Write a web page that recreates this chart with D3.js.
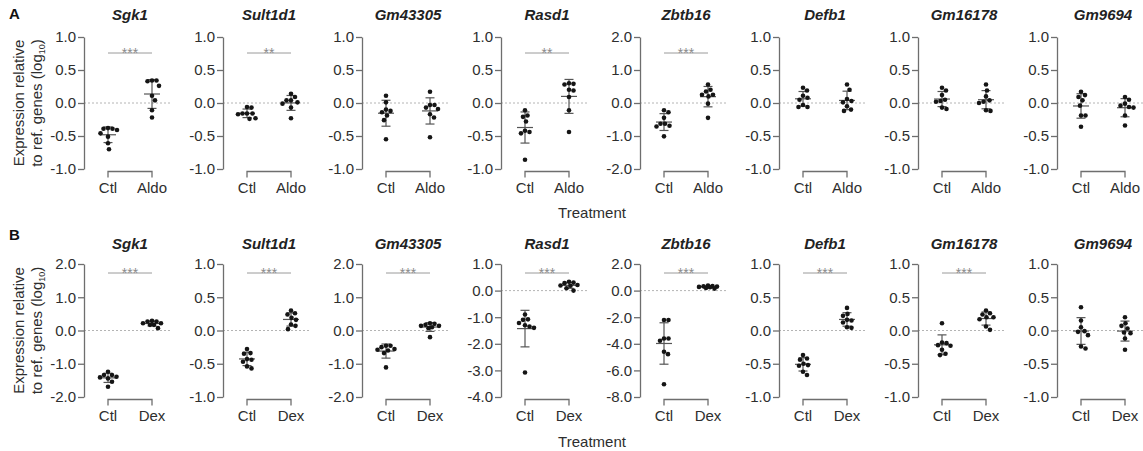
<!DOCTYPE html>
<html>
<head>
<meta charset="utf-8">
<script src="https://cdn.jsdelivr.net/npm/d3@7"></script>
<style>
  html, body { margin: 0; padding: 0; background: #fff; }
  svg { display: block; font-family: "Liberation Sans", Arial, Helvetica, sans-serif; }
</style>
</head>
<body>
<svg id="chart" width="1143" height="451"></svg>
<script>
// ---- data -------------------------------------------------------------
const genes = ["Sgk1", "Sult1d1", "Gm43305", "Rasd1", "Zbtb16", "Defb1", "Gm16178", "Gm9694"];

const aldoGroups = ["Ctl", "Aldo"];
const dexGroups = ["Ctl", "Dex"];

// log10 expression relative to reference genes, one list per gene (8 animals each)
const aldoCtl = [
  [-0.38, -0.39, -0.39, -0.41, -0.46, -0.51, -0.61, -0.70],
  [-0.07, -0.06, -0.16, -0.16, -0.16, -0.17, -0.23, -0.24],
  [0.11, 0.01, -0.10, -0.12, -0.14, -0.19, -0.26, -0.55],
  [-0.11, -0.19, -0.21, -0.28, -0.42, -0.44, -0.46, -0.86],
  [-0.22, -0.28, -0.45, -0.63, -0.63, -0.69, -0.71, -1.01],
  [0.23, 0.19, 0.11, 0.08, 0.05, -0.03, -0.06, -0.06],
  [0.23, 0.19, 0.12, 0.05, 0.03, 0.02, -0.07, -0.09],
  [0.17, 0.12, 0.09, 0.04, -0.04, -0.19, -0.19, -0.36]
];
const aldoTreated = [
  [0.34, 0.34, 0.33, 0.26, 0.11, 0.04, -0.11, -0.22],
  [0.14, 0.09, 0.04, 0.04, 0.01, -0.01, -0.07, -0.23],
  [0.17, -0.03, -0.03, -0.07, -0.09, -0.17, -0.22, -0.52],
  [0.29, 0.30, 0.28, 0.19, 0.20, 0.09, -0.11, -0.44],
  [0.56, 0.40, 0.35, 0.25, 0.25, 0.20, -0.02, -0.45],
  [0.28, 0.20, 0.06, 0.03, 0.01, -0.05, -0.10, -0.12],
  [0.28, 0.19, 0.10, 0.04, 0.02, 0.00, -0.11, -0.12],
  [0.09, 0.05, -0.01, -0.04, -0.06, -0.07, -0.19, -0.34]
];
const dexCtl = [
  [-1.24, -1.34, -1.34, -1.39, -1.44, -1.41, -1.54, -1.69],
  [-0.28, -0.34, -0.35, -0.43, -0.44, -0.47, -0.54, -0.57],
  [-0.46, -0.46, -0.50, -0.58, -0.60, -0.56, -0.68, -1.11],
  [-0.90, -1.08, -1.10, -1.22, -1.30, -1.35, -1.40, -3.08],
  [-2.21, -2.21, -3.60, -3.60, -3.77, -4.60, -4.78, -7.04],
  [-0.37, -0.42, -0.44, -0.50, -0.52, -0.53, -0.62, -0.67],
  [0.11, -0.18, -0.19, -0.22, -0.23, -0.29, -0.35, -0.37],
  [0.35, 0.15, 0.05, -0.02, -0.01, -0.07, -0.24, -0.27]
];
const dexTreated = [
  [0.27, 0.29, 0.27, 0.22, 0.22, 0.17, 0.17, 0.07],
  [0.30, 0.26, 0.24, 0.19, 0.16, 0.09, 0.07, 0.02],
  [0.20, 0.22, 0.17, 0.14, 0.14, 0.10, 0.07, -0.20],
  [0.30, 0.33, 0.28, 0.21, 0.19, 0.18, 0.09, 0.00],
  [0.38, 0.35, 0.32, 0.30, 0.28, 0.25, 0.20, 0.15],
  [0.34, 0.25, 0.22, 0.16, 0.15, 0.12, 0.05, 0.04],
  [0.30, 0.26, 0.24, 0.20, 0.20, 0.17, 0.06, 0.01],
  [0.20, 0.11, 0.07, 0.03, -0.03, -0.04, -0.12, -0.29]
];

// y-axis ranges and tick spacing per gene
const aldoDomains = [[-1, 1], [-1, 1], [-1, 1], [-1, 1], [-2, 2], [-1, 1], [-1, 1], [-1, 1]];
const aldoTickSteps = [0.5, 0.5, 0.5, 0.5, 1, 0.5, 0.5, 0.5];
const dexDomains = [[-2, 2], [-1, 1], [-2, 2], [-4, 1], [-8, 2], [-1, 1], [-1, 1], [-1, 1]];
const dexTickSteps = [1, 0.5, 1, 1, 2, 0.5, 0.5, 0.5];

// significance of Ctl vs treatment
const aldoSig = ["***", "**", "", "**", "***", "", "", ""];
const dexSig = ["***", "***", "***", "***", "***", "***", "***", ""];

const xTitle = "Treatment";

// ---- layout -----------------------------------------------------------
const rows = [
  { letter: "A", groups: aldoGroups, ctl: aldoCtl, trt: aldoTreated, domains: aldoDomains, steps: aldoTickSteps, sig: aldoSig,
    top: 37, bottom: 169, titleY: 20, letterY: 19, sigY: 53, catY: 193, xTitleY: 218 },
  { letter: "B", groups: dexGroups, ctl: dexCtl, trt: dexTreated, domains: dexDomains, steps: dexTickSteps, sig: dexSig,
    top: 264, bottom: 397, titleY: 249, letterY: 240, sigY: 273, catY: 421, xTitleY: 447 }
];
const firstCatX = 108, panelStep = 139, catGap = 44, axisGap = 24, zeroExtra = 18;

const TEXT = "#2e2e2e", AXIS = "#6e6e6e", ERR = "#555", SIGC = "#9a9a9a", DOT = "#151515";
const fmt = v => d3.format(".1f")(v).replace("\u2212", "-");

const svg = d3.select("#chart");

// compact scatter: points are pushed sideways (within a limited width)
// when they would overlap; if no free slot exists, the least crowded one is used
function swarm(vals, y) {
  const pts = vals.map(v => ({ v, py: y(v), dx: 0 }));
  const order = pts.slice().sort((a, b) => a.py - b.py);
  const placed = [];
  const RX = 4.3, RY = 6, MAXW = 9;
  order.forEach(p => {
    let best = 0, bestD = -1;
    for (let k = 0; ; k++) {
      const cand = (k % 2 === 1 ? 1 : -1) * Math.ceil(k / 2) * 0.5;
      if (Math.abs(cand) > MAXW) break;
      let minD = Infinity;
      placed.forEach(q => {
        const a = (cand - q.dx) / RX, b = (p.py - q.py) / RY;
        minD = Math.min(minD, Math.sqrt(a * a + b * b));
      });
      if (minD >= 1) { best = cand; bestD = minD; break; }
      if (minD > bestD + 0.05) { bestD = minD; best = cand; }
    }
    p.dx = best === 0 ? 0 : best;
    placed.push(p);
  });
  return pts;
}

rows.forEach(row => {
  // panel letter
  svg.append("text").attr("x", 9).attr("y", row.letterY)
    .attr("font-size", 15).attr("font-weight", "bold").attr("fill", "#111").text(row.letter);

  // shared y-axis title
  const yc = (row.top + row.bottom) / 2;
  const yt = svg.append("g").attr("fill", TEXT).attr("font-size", 15).attr("text-anchor", "middle");
  yt.append("text").attr("transform", `translate(24,${yc}) rotate(-90)`).text("Expression relative");
  const t2 = yt.append("text").attr("transform", `translate(42,${yc}) rotate(-90)`);
  t2.append("tspan").text("to ref. genes (log");
  t2.append("tspan").attr("font-size", 9).attr("dy", 3).text("10");
  t2.append("tspan").attr("dy", -3).text(")");

  genes.forEach((gene, i) => {
    const cx0 = firstCatX + panelStep * i;
    const x = d3.scalePoint().domain(row.groups).range([cx0, cx0 + catGap]);
    const axisX = cx0 - axisGap;
    const dom = row.domains[i];
    const y = d3.scaleLinear().domain(dom).range([row.bottom, row.top]);
    const step = row.steps[i];
    const ticks = d3.range(Math.round((dom[1] - dom[0]) / step) + 1).map(k => dom[0] + k * step);

    const g = svg.append("g");

    // zero reference line
    g.append("line").attr("x1", axisX).attr("x2", x(row.groups[1]) + zeroExtra)
      .attr("y1", y(0)).attr("y2", y(0))
      .attr("stroke", "#b4b4b4").attr("stroke-width", 1).attr("stroke-dasharray", "2,2");

    // y axis
    const ax = g.append("g").attr("transform", `translate(${axisX},0)`)
      .call(d3.axisLeft(y).tickValues(ticks).tickFormat(fmt).tickSize(6).tickSizeOuter(0).tickPadding(2));
    ax.select(".domain").attr("stroke", AXIS).attr("stroke-width", 1.3);
    ax.selectAll(".tick line").attr("stroke", AXIS).attr("stroke-width", 1.3);
    ax.selectAll(".tick text").attr("fill", TEXT).attr("font-size", 15)
      .attr("font-family", "'Liberation Sans', Arial, sans-serif");

    // gene title
    g.append("text").attr("x", (x(row.groups[0]) + x(row.groups[1])) / 2).attr("y", row.titleY)
      .attr("text-anchor", "middle").attr("font-size", 15).attr("font-weight", "bold")
      .attr("font-style", "italic").attr("fill", "#222").text(gene);

    // group bracket and labels
    const bY = row.bottom + 2.5;
    g.append("path")
      .attr("d", `M${x(row.groups[0])},${bY + 6}V${bY}H${x(row.groups[1])}V${bY + 6}`)
      .attr("fill", "none").attr("stroke", AXIS).attr("stroke-width", 1.3);
    row.groups.forEach(gr => {
      g.append("text").attr("x", x(gr)).attr("y", row.catY).attr("text-anchor", "middle")
        .attr("font-size", 15).attr("fill", TEXT).text(gr);
    });

    // significance bar
    if (row.sig[i]) {
      g.append("line").attr("x1", x(row.groups[0])).attr("x2", x(row.groups[1]))
        .attr("y1", row.sigY).attr("y2", row.sigY).attr("stroke", SIGC).attr("stroke-width", 1);
      g.append("text").attr("x", (x(row.groups[0]) + x(row.groups[1])) / 2).attr("y", row.sigY + 5)
        .attr("text-anchor", "middle").attr("font-size", 14).attr("fill", "#8a8a8a").text(row.sig[i]);
    }

    // points with mean ± SD
    [row.ctl[i], row.trt[i]].forEach((vals, gi) => {
      const cx = x(row.groups[gi]);
      const m = d3.mean(vals), sd = d3.deviation(vals);
      const eg = g.append("g").attr("stroke", ERR).attr("stroke-width", 1.2);
      eg.append("line").attr("x1", cx).attr("x2", cx).attr("y1", y(m + sd)).attr("y2", y(m - sd));
      eg.append("line").attr("x1", cx - 8).attr("x2", cx + 8).attr("y1", y(m)).attr("y2", y(m));
      eg.append("line").attr("x1", cx - 4.5).attr("x2", cx + 4.5).attr("y1", y(m + sd)).attr("y2", y(m + sd));
      eg.append("line").attr("x1", cx - 4.5).attr("x2", cx + 4.5).attr("y1", y(m - sd)).attr("y2", y(m - sd));

      g.append("g").selectAll("circle").data(swarm(vals, y)).join("circle")
        .attr("cx", d => cx + d.dx).attr("cy", d => d.py).attr("r", 2.3).attr("fill", DOT);
    });
  });

  // shared x-axis title
  svg.append("text").attr("x", 592).attr("y", row.xTitleY).attr("text-anchor", "middle")
    .attr("font-size", 15).attr("fill", TEXT).text(xTitle);
});
</script>
</body>
</html>
